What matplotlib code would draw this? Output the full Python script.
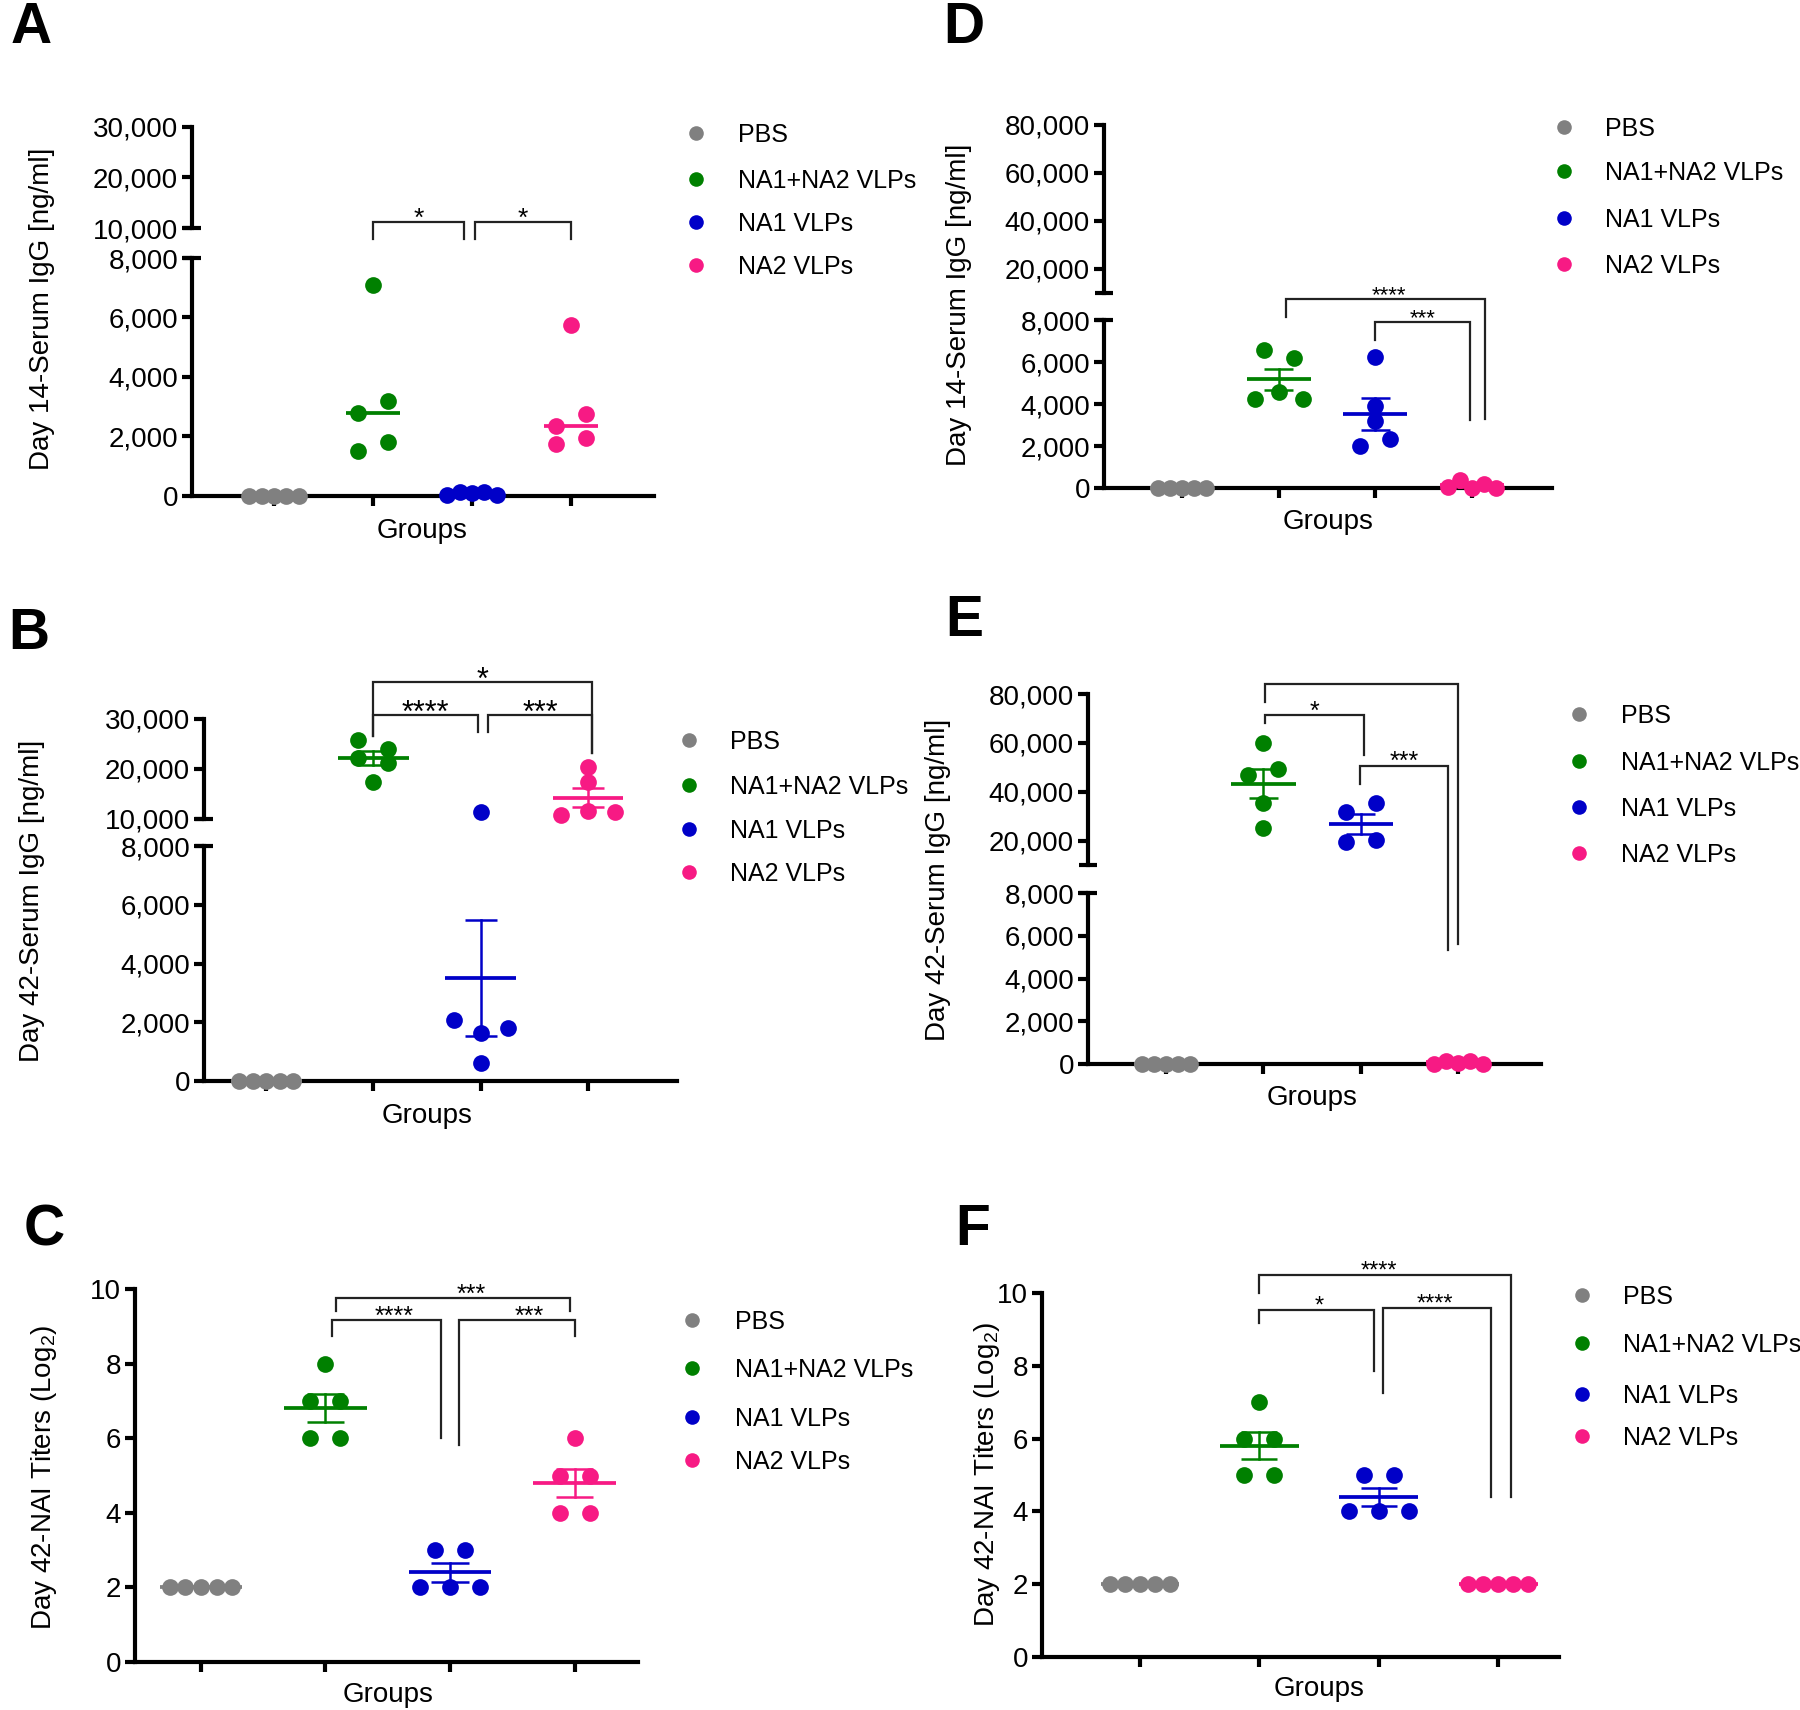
import numpy as np
import matplotlib
matplotlib.use("Agg")
import matplotlib.pyplot as plt
from matplotlib.lines import Line2D
from matplotlib.ticker import FuncFormatter

plt.rcParams['font.family'] = ['Liberation Sans', 'DejaVu Sans']
plt.rcParams['mathtext.fontset'] = 'custom'
plt.rcParams['mathtext.rm'] = 'Liberation Sans'

W, H = 1800, 1710

groups = ["PBS", "NA1+NA2 VLPs", "NA1 VLPs", "NA2 VLPs"]
colors = ["#808080", "#008000", "#0000c8", "#f71a84"]

# A: day 14 serum IgG (ng/ml), line = median
a_pbs = [0, 0, 0, 0, 0]
a_na12 = [7100, 2800, 3200, 1500, 1800]
a_na1 = [50, 150, 100, 150, 50]
a_na2 = [5750, 2350, 2750, 1750, 1950]

# B: day 42 serum IgG (ng/ml), mean +- SEM
b_pbs = [0, 0, 0, 0, 0]
b_na12 = [25800, 24000, 22200, 21200, 17400]
b_na1 = [11400, 2080, 1650, 1800, 600]
b_na2 = [20460, 17300, 10780, 11500, 11370]

# C: day 42 NAI titers (log2)
c_pbs = [2, 2, 2, 2, 2]
c_na12 = [8, 7, 7, 6, 6]
c_na1 = [3, 3, 2, 2, 2]
c_na2 = [6, 5, 5, 4, 4]

# D: day 14 serum IgG (ng/ml)
d_pbs = [0, 0, 0, 0, 0]
d_na12 = [6590, 6200, 4240, 4570, 4240]
d_na1 = [6240, 3920, 3170, 1980, 2330]
d_na2 = [60, 380, 20, 180, 20]

# E: day 42 serum IgG (ng/ml)
e_pbs = [0, 0, 0, 0, 0]
e_na12 = [60000, 46900, 49300, 35350, 25100]
e_na1 = [31800, 35500, 19400, 20100]
e_na2 = [0, 150, 60, 150, 0]

# F: day 42 NAI titers (log2)
f_pbs = [2, 2, 2, 2, 2]
f_na12 = [7, 6, 6, 5, 5]
f_na1 = [5, 5, 4, 4, 4]
f_na2 = [2, 2, 2, 2, 2]

fig = plt.figure(figsize=(W / 100, H / 100), dpi=100)
comma = FuncFormatter(lambda v, p: f"{v:,.0f}")
plain = FuncFormatter(lambda v, p: f"{v:.0f}")


def px_rect(x0, y_top, x1, y_bot):
    return [x0 / W, 1 - y_bot / H, (x1 - x0) / W, (y_bot - y_top) / H]


def style(ax, ticks, fmt, bottom):
    ax.set_facecolor('none')
    for s in ['top', 'right']:
        ax.spines[s].set_visible(False)
    ax.spines['left'].set_linewidth(3)
    if bottom:
        ax.spines['bottom'].set_linewidth(3)
        ax.set_xticks(range(4))
        ax.set_xticklabels([])
        ax.tick_params(axis='x', length=7, width=3)
    else:
        ax.spines['bottom'].set_visible(False)
        ax.set_xticks([])
    ax.set_yticks(ticks)
    ax.yaxis.set_major_formatter(fmt)
    ax.tick_params(axis='y', length=7, width=3, labelsize=20, pad=3)


def make_panel(sx, ex, xlim, lo_px, lo_lim, lo_ticks, hi_px=None, hi_lim=None,
               hi_ticks=None, fmt=comma):
    lo = fig.add_axes(px_rect(sx, lo_px[0], ex, lo_px[1]))
    lo.set_xlim(xlim)
    lo.set_ylim(lo_lim)
    style(lo, lo_ticks, fmt, True)
    hi = None
    if hi_px:
        hi = fig.add_axes(px_rect(sx, hi_px[0], ex, hi_px[1]))
        hi.set_xlim(xlim)
        hi.set_ylim(hi_lim)
        style(hi, hi_ticks, fmt, False)
        # break marks at both ends of the gap
        for y in (hi_px[1], lo_px[0]):
            fig.add_artist(Line2D([(sx - 9) / W, (sx + 9) / W], [1 - y / H] * 2,
                                  color='k', lw=3, solid_capstyle='butt'))
        return dict(lo=lo, hi=hi, lo_top=lo_lim[1], hi_bot=hi_lim[0])
    return dict(lo=lo, hi=None, lo_top=lo_lim[1], hi_bot=lo_lim[1])


def spread(ax, x0, vals, s_max=30, limit=0.5, row_px=14):
    # GraphPad-like scatter: near-equal values share a row, centred on the group
    vals = list(vals)
    pix = ax.transData.transform(np.column_stack([np.full(len(vals), x0), vals]))[:, 1]
    unit = ax.transData.transform((1, 0))[0] - ax.transData.transform((0, 0))[0]
    order = sorted(range(len(vals)), key=lambda i: -vals[i])
    rows = []
    for i in order:
        if rows and abs(pix[rows[-1][0]] - pix[i]) < row_px:
            rows[-1].append(i)
        else:
            rows.append([i])
    xs = np.full(len(vals), float(x0))
    for r in rows:
        r = sorted(r)
        k = len(r)
        if k > 1:
            step = min(s_max / unit, limit / (k - 1))
            for j, i in enumerate(r):
                xs[i] = x0 + (j - (k - 1) / 2) * step
    return xs


def seg_ax(p, v):
    if p['hi'] is not None and v >= p['hi_bot']:
        return p['hi']
    return p['lo']


def draw_data(p, data, center='mean', half=0.33, cap=0.15):
    for g, vals in enumerate(data):
        vals = np.asarray(vals, float)
        if p['hi'] is not None:
            up = vals >= p['hi_bot']
        else:
            up = np.zeros(len(vals), bool)
        for ax, m in ((p['lo'], ~up), (p['hi'], up)):
            if ax is None or not m.any():
                continue
            xs = spread(ax, g, vals[m])
            ax.scatter(xs, vals[m], s=145, color=colors[g], linewidths=0,
                       zorder=3, clip_on=False)
        if center == 'median':
            c = np.median(vals)
            err = 0
        else:
            c = vals.mean()
            err = vals.std(ddof=1) / np.sqrt(len(vals))
        ax = seg_ax(p, c)
        ax.plot([g - half, g + half], [c, c], color=colors[g], lw=2.7,
                solid_capstyle='butt', zorder=4, clip_on=False)
        if err > 0:
            ax.plot([g, g], [c - err, c + err], color=colors[g], lw=1.8, zorder=4, clip_on=False)
            for y in (c - err, c + err):
                ax.plot([g - cap, g + cap], [y, y], color=colors[g], lw=1.8,
                        solid_capstyle='butt', zorder=4, clip_on=False)


def fig_xy(p, x, v):
    lo, hi = p['lo'], p['hi']
    X = lo.transData.transform((x, 0))[0]
    if hi is None or v <= p['lo_top']:
        Y = lo.transData.transform((x, v))[1]
    elif v >= p['hi_bot']:
        Y = hi.transData.transform((x, v))[1]
    else:
        y0 = lo.transData.transform((x, p['lo_top']))[1]
        y1 = hi.transData.transform((x, p['hi_bot']))[1]
        Y = y0 + (v - p['lo_top']) / (p['hi_bot'] - p['lo_top']) * (y1 - y0)
    return fig.transFigure.inverted().transform((X, Y))


def brackets(p, specs, fs):
    for sp in specs:
        x1, x2, yb, yl, yr, label = sp[:6]
        sx = sp[6] if len(sp) > 6 else (x1 + x2) / 2
        pts = np.array([fig_xy(p, x1, yl), fig_xy(p, x1, yb),
                        fig_xy(p, x2, yb), fig_xy(p, x2, yr)])
        fig.add_artist(Line2D(pts[:, 0], pts[:, 1], color='#222222', lw=1.6,
                              solid_joinstyle='miter'))
        if label:
            fx, fy = fig_xy(p, sx, yb)
            fig.text(fx, fy + (11 - 0.58 * fs / 0.72) / H, label, ha='center',
                     va='baseline', fontsize=fs)


def legend(mx, tx, rows):
    for g, y in enumerate(rows):
        fig.add_artist(Line2D([mx / W], [1 - y / H], marker='o', ms=10.5, lw=0,
                              color=colors[g], markeredgewidth=0))
        fig.text(tx / W, 1 - (y + 9) / H, groups[g], fontsize=18, va='baseline')


def labels(letter, lxy, ylab, yxy, gxy):
    fig.text(lxy[0] / W, 1 - (lxy[1] + 20) / H, letter, fontsize=41,
             fontweight='bold', ha='center', va='baseline')
    fig.text(yxy[0] / W, 1 - yxy[1] / H, ylab, rotation=90, fontsize=20,
             ha='center', va='center')
    fig.text(gxy[0] / W, 1 - gxy[1] / H, "Groups", fontsize=20, ha='center', va='center')


igg_lo = [0, 2000, 4000, 6000, 8000]
titer = [0, 2, 4, 6, 8, 10]

# ---- A
pA = make_panel(192, 654, (-0.83, 3.84), (258, 496), (0, 8000), igg_lo,
                (127, 228), (10000, 30000), [10000, 20000, 30000])
draw_data(pA, [a_pbs, a_na12, a_na1, a_na2], center='median', half=0.27)
brackets(pA, [(1.0, 1.92, 11267, 9280, 9280, '*'),
              (2.03, 3.0, 11267, 9280, 9280, '*')], 19)
legend(696, 738, [133, 179, 222, 265])
labels("A", (31, 23), "Day 14-Serum IgG [ng/ml]", (42, 309), (422, 531))

# ---- B
pB = make_panel(204, 677, (-0.58, 3.83), (846, 1081), (0, 8000), igg_lo,
                (719, 819), (10000, 30000), [10000, 20000, 30000])
draw_data(pB, [b_pbs, b_na12, b_na1, b_na2])
brackets(pB, [(1.0, 3.04, 37400, 26600, 23280, '*'),
              (1.0, 1.97, 30800, 26600, 27400, '****'),
              (2.07, 3.04, 30800, 27400, 23280, '***')], 22)
legend(689, 730, [740, 785, 829, 872])
labels("B", (29, 629), "Day 42-Serum IgG [ng/ml]", (32, 901), (427, 1116))

# ---- C
pC = make_panel(135, 638, (-0.53, 3.51), (1289, 1662), (0, 10), titer, fmt=plain)
draw_data(pC, [c_pbs, c_na12, c_na1, c_na2])
brackets(pC, [(1.085, 2.96, 9.76, 9.41, 9.41, '***', 2.17),
              (1.05, 1.93, 9.16, 8.74, 6.0, '****', 1.55),
              (2.07, 3.0, 9.16, 5.82, 8.74, '***', 2.64)], 18)
legend(692, 735, [1320, 1368, 1417, 1460])
labels("C", (44, 1226), r"Day 42-NAI Titers (Log$_\mathregular{2}$)", (44, 1477), (388, 1695))

# ---- D
pD = make_panel(1104, 1552, (-0.81, 3.83), (320, 488), (0, 8000), igg_lo,
                (125, 293), (10000, 80000), [20000, 40000, 60000, 80000])
draw_data(pD, [d_pbs, d_na12, d_na1, d_na2])
brackets(pD, [(1.07, 3.14, 9533, 8244, 3270, '****', 2.14),
              (2.0, 2.98, 7890, 7048, 3224, '***', 2.49)], 16)
legend(1564, 1605, [127, 171, 218, 264])
labels("D", (964, 23), "Day 14-Serum IgG [ng/ml]", (959, 305), (1328, 522))

# ---- E
pE = make_panel(1088, 1541, (-0.80, 3.85), (893, 1064), (0, 8000), igg_lo,
                (694, 865), (10000, 80000), [20000, 40000, 60000, 80000])
draw_data(pE, [e_pbs, e_na12, e_na1, e_na2])
brackets(pE, [(1.02, 3.0, 84200, 76600, 5632, ''),
              (1.02, 2.03, 71280, 68150, 55100, '*'),
              (1.99, 2.9, 50600, 43170, 5310, '***')], 18)
legend(1579, 1621, [714, 761, 807, 853])
labels("E", (964, 616), "Day 42-Serum IgG [ng/ml]", (938, 880), (1312, 1098))

# ---- F
pF = make_panel(1042, 1559, (-0.82, 3.51), (1293, 1657), (0, 10), titer, fmt=plain)
draw_data(pF, [f_pbs, f_na12, f_na1, f_na2])
brackets(pF, [(1.0, 3.11, 10.5, 10.0, 4.40, '****', 2.0),
              (1.0, 1.96, 9.53, 9.18, 7.86, '*', 1.5),
              (2.04, 2.94, 9.59, 7.25, 4.40, '****', 2.47)], 17)
legend(1582, 1623, [1295, 1343, 1394, 1436])
labels("F", (973, 1225), r"Day 42-NAI Titers (Log$_\mathregular{2}$)", (987, 1474), (1319, 1689))

fig.savefig("out.png", dpi=100)
